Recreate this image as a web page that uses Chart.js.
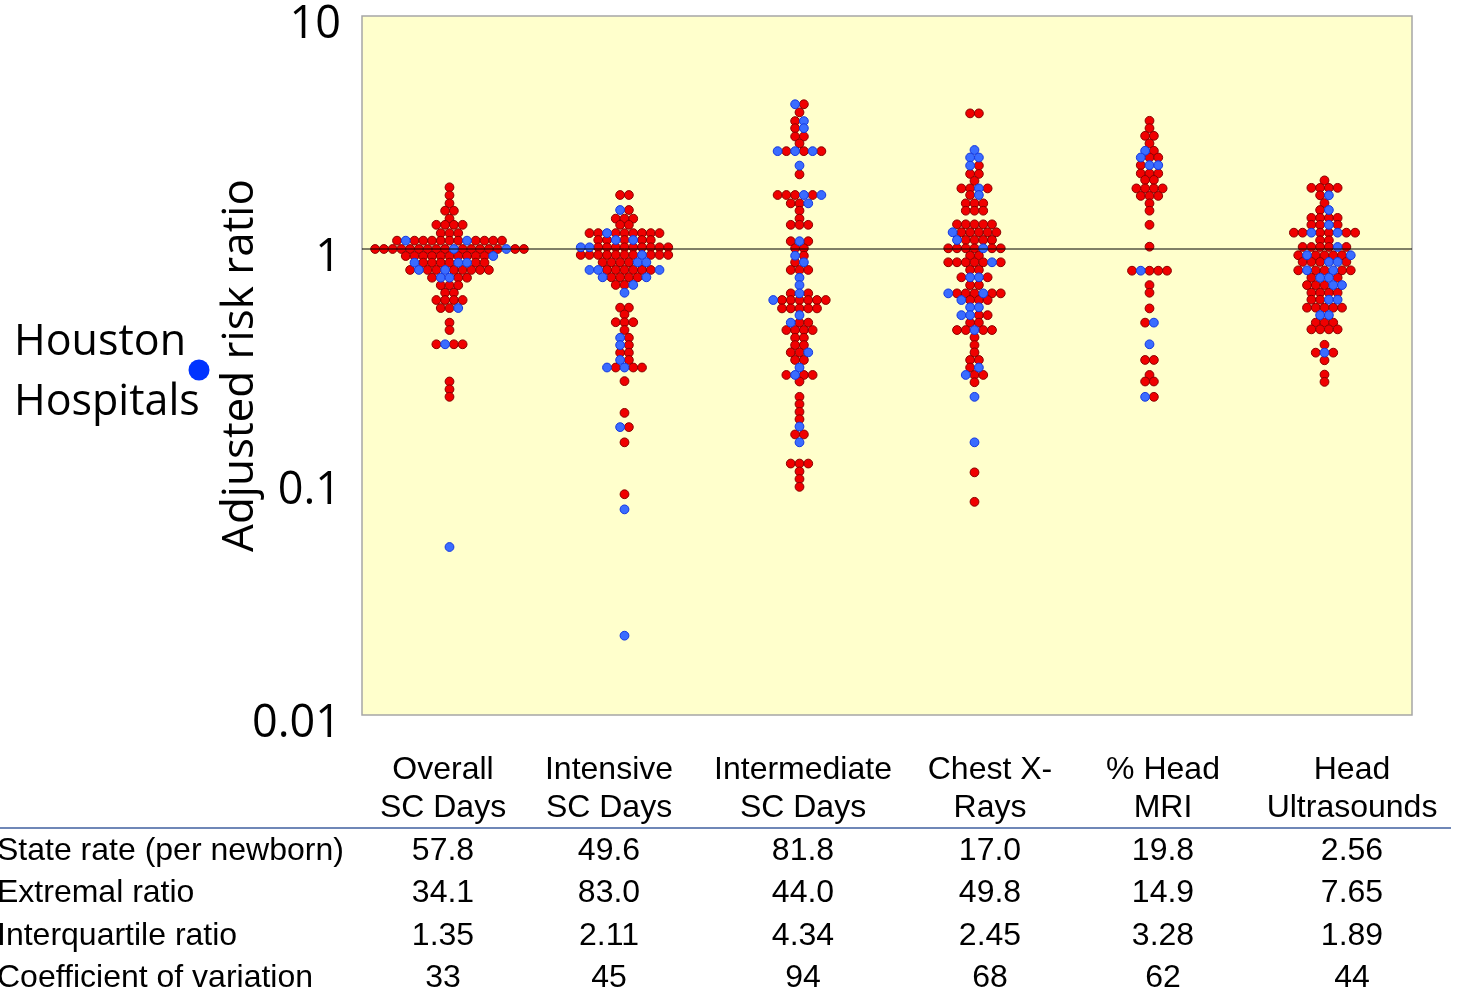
<!DOCTYPE html>
<html>
<head>
<meta charset="utf-8">
<title>Adjusted risk ratio</title>
<script src="https://cdn.jsdelivr.net/npm/chart.js@4.4.0/dist/chart.umd.min.js"></script>
<style>
  body { margin: 0; background: #fff; }
  #wrap { width: 1459px; height: 995px; position: relative; }
</style>
</head>
<body>
<div id="wrap"><canvas id="myChart"></canvas></div>
<script>
// categories (two text lines each)
const categories = [
    ['Overall', 'SC Days'],
    ['Intensive', 'SC Days'],
    ['Intermediate', 'SC Days'],
    ['Chest X-', 'Rays'],
    ['% Head', 'MRI'],
    ['Head', 'Ultrasounds']
];

// rows of hospitals per measure: [risk ratio, colour of each dot left->right] r = other, b = Houston
const overallRows = [
    [1.84, 'r'], [1.70, 'r'], [1.57, 'r'], [1.46, 'rr'], [1.35, 'r'], [1.27, 'rrrr'], [1.17, 'rrr'],
    [1.086, 'rbrrrrrrbrrrr'], [1.0, 'rrrrrrrrrbrrrrrbrr'], [0.933, 'rrrrrrrrrrb'], [0.874, 'brrrrbbrr'],
    [0.813, 'rbrrbrrrrr'], [0.753, 'rbbrr'], [0.699, 'rrr'], [0.649, 'rr'], [0.604, 'rrrr'], [0.558, 'rrb'],
    [0.483, 'r'], [0.449, 'r'], [0.39, 'rbrr'], [0.27, 'r'], [0.25, 'r'], [0.232, 'r'], [0.0526, 'b']
];
const intensiveRows = [
    [1.705, 'rr'], [1.47, 'br'], [1.35, 'rrr'], [1.27, 'rr'], [1.17, 'rrbrrrrrr'], [1.093, 'rrbrbrr'],
    [1.017, 'bbrrrrrrrrr'], [0.943, 'rrrrrrrbrrr'], [0.877, 'rrrrbb'], [0.813, 'bbrrrrrrb'], [0.756, 'brrrrb'],
    [0.701, 'rrb'], [0.649, 'b'], [0.56, 'rr'], [0.524, 'r'], [0.485, 'rrr'], [0.449, 'r'], [0.416, 'br'],
    [0.387, 'br'], [0.359, 'rr'], [0.334, 'br'], [0.31, 'brbrr'], [0.271, 'r'], [0.198, 'r'], [0.172, 'br'],
    [0.148, 'r'], [0.0886, 'r'], [0.0763, 'b'], [0.0219, 'b']
];
const intermediateRows = [
    [4.18, 'br'], [3.86, 'r'], [3.54, 'rb'], [3.30, 'rb'], [3.04, 'rr'], [2.84, 'r'], [2.63, 'brbrbr'],
    [2.28, 'b'], [2.09, 'r'], [1.705, 'rrrbrb'], [1.57, 'rrb'], [1.46, 'r'], [1.35, 'r'], [1.27, 'rrr'],
    [1.08, 'rbr'], [1.007, 'rr'], [0.936, 'br'], [0.877, 'rb'], [0.813, 'rrr'], [0.753, 'b'], [0.70, 'b'],
    [0.645, 'rbr'], [0.604, 'brrrrrr'], [0.556, 'rrrrr'], [0.52, 'b'], [0.483, 'brr'], [0.449, 'rrrr'],
    [0.416, 'rr'], [0.387, 'rr'], [0.36, 'rrb'], [0.334, 'rr'], [0.31, 'b'], [0.288, 'rbrr'], [0.27, 'r'],
    [0.232, 'r'], [0.216, 'r'], [0.20, 'r'], [0.186, 'r'], [0.173, 'b'], [0.16, 'rr'], [0.148, 'b'],
    [0.12, 'rrr'], [0.111, 'r'], [0.103, 'r'], [0.0953, 'r']
];
const chestRows = [
    [3.82, 'rr'], [2.66, 'b'], [2.47, 'bb'], [2.28, 'br'], [2.10, 'rr'], [1.96, 'r'], [1.82, 'rrbr'],
    [1.705, 'rb'], [1.57, 'rrr'], [1.46, 'rrr'], [1.276, 'rrrrr'], [1.18, 'brrrrr'], [1.093, 'brrrr'],
    [1.007, 'rrrrbrr'], [0.936, 'rr'], [0.877, 'rrrrrbr'], [0.813, 'rr'], [0.756, 'rbbr'], [0.70, 'rr'],
    [0.645, 'brrrbrr'], [0.604, 'brrr'], [0.562, 'bb'], [0.52, 'bbrr'], [0.483, 'rr'], [0.449, 'rrbrr'],
    [0.418, 'r'], [0.387, 'r'], [0.36, 'r'], [0.334, 'rr'], [0.31, 'rb'], [0.288, 'brr'], [0.268, 'r'],
    [0.232, 'b'], [0.148, 'b'], [0.11, 'r'], [0.0822, 'r']
];
const mriRows = [
    [3.55, 'r'], [3.30, 'r'], [3.06, 'rr'], [2.84, 'r'], [2.64, 'br'], [2.47, 'brr'], [2.29, 'rbb'],
    [2.11, 'rrr'], [1.98, 'rr'], [1.82, 'rrrr'], [1.69, 'rrr'], [1.57, 'r'], [1.46, 'r'], [1.27, 'r'],
    [1.023, 'r'], [0.807, 'rbrrr'], [0.70, 'r'], [0.649, 'r'], [0.556, 'r'], [0.483, 'rb'], [0.39, 'b'],
    [0.334, 'rr'], [0.288, 'r'], [0.27, 'rr'], [0.232, 'br']
];
const ultrasoundRows = [
    [1.97, 'r'], [1.83, 'rrrr'], [1.70, 'rb'], [1.575, 'r'], [1.47, 'rb'], [1.36, 'rrrr'], [1.27, 'rrbr'],
    [1.175, 'rrbrrbrr'], [1.09, 'rr'], [1.02, 'rrrrbr'], [0.94, 'rbrrrrb'], [0.88, 'rrrbbr'],
    [0.81, 'rbrrbrr'], [0.753, 'rbbr'], [0.70, 'rrrbb'], [0.649, 'rrrr'], [0.606, 'rrbb'], [0.56, 'rrrrr'],
    [0.52, 'bb'], [0.483, 'rrr'], [0.452, 'rrrr'], [0.388, 'r'], [0.359, 'rbr'], [0.333, 'r'],
    [0.289, 'r'], [0.269, 'r']
];
const measureRows = [overallRows, intensiveRows, intermediateRows, chestRows, mriRows, ultrasoundRows];

// y axis ticks
const yTickValues = [0.01, 0.1, 1, 10];
const yTickLabels = ['0.01', '0.1', '1', '10'];

// table under the chart
const rowLabels = ['State rate (per newborn)', 'Extremal ratio', 'Interquartile ratio', 'Coefficient of variation'];
const stateRate = ['57.8', '49.6', '81.8', '17.0', '19.8', '2.56'];
const extremalRatio = ['34.1', '83.0', '44.0', '49.8', '14.9', '7.65'];
const interquartileRatio = ['1.35', '2.11', '4.34', '2.45', '3.28', '1.89'];
const coefVariation = ['33', '45', '94', '68', '62', '44'];
const tableRows = [stateRate, extremalRatio, interquartileRatio, coefVariation];

const ctx = document.getElementById('myChart');
const dotStep = 0.05;          // horizontal spacing of dots inside a row (x units)
const tableCols = [443, 609, 803, 990, 1163, 1352];
const calibri = '"Open Sans", "DejaVu Sans", sans-serif';
const arial = '"Liberation Sans", Arial, sans-serif';

function buildPoints(colour) {
    const pts = [];
    measureRows.forEach((rows, k) => {
        rows.forEach(([valor, dots]) => {
            const n = dots.length;
            for (let i = 0; i < n; i++) {
                if (dots[i] === colour) {
                    pts.push({ x: k + 0.5 + (i - (n - 1) / 2) * dotStep, y: valor });
                }
            }
        });
    });
    return pts;
}

const paperPlugin = {
    id: 'paper',
    beforeDatasetsDraw(chart) {
        const { ctx, chartArea: a } = chart;
        ctx.save();
        ctx.fillStyle = '#ffffcc';
        ctx.fillRect(a.left, a.top, a.right - a.left, a.bottom - a.top);
        ctx.strokeStyle = '#a6a6a6';
        ctx.lineWidth = 1.5;
        ctx.strokeRect(a.left, a.top, a.right - a.left, a.bottom - a.top);
        ctx.restore();
    },
    afterDraw(chart) {
        const { ctx } = chart;
        ctx.save();
        ctx.fillStyle = '#000';
        ctx.textBaseline = 'middle';

        // Houston legend
        ctx.font = '43px ' + calibri;
        ctx.textAlign = 'left';
        ctx.fillText('Houston', 14, 343);
        ctx.fillText('Hospitals', 14, 403);
        ctx.beginPath();
        ctx.arc(199, 370, 10.5, 0, Math.PI * 2);
        ctx.fillStyle = '#0033ff';
        ctx.fill();

        // category labels
        ctx.fillStyle = '#000';
        ctx.font = '32px ' + arial;
        ctx.textAlign = 'center';
        categories.forEach((lines, k) => {
            lines.forEach((t, j) => ctx.fillText(t, tableCols[k], 770 + j * 38));
        });

        // rule
        ctx.strokeStyle = '#6f87b7';
        ctx.lineWidth = 2;
        ctx.beginPath();
        ctx.moveTo(0, 828);
        ctx.lineTo(1451, 828);
        ctx.stroke();

        // table
        tableRows.forEach((vals, r) => {
            const y = 851 + r * 42.5;
            ctx.textAlign = 'left';
            ctx.fillText(rowLabels[r], -3, y);
            ctx.textAlign = 'center';
            vals.forEach((v, k) => ctx.fillText(v, tableCols[k], y));
        });
        ctx.restore();
    }
};

const myChart = new Chart(ctx, {
    type: 'scatter',
    data: {
        datasets: [
            {
                label: 'Reference',
                type: 'line',
                data: [{ x: 0, y: 1 }, { x: 6, y: 1 }],
                borderColor: '#000',
                borderWidth: 1,
                pointRadius: 0,
                order: 0
            },
            {
                label: 'Houston',
                data: buildPoints('b'),
                backgroundColor: '#3a6cff',
                borderColor: '#1437e0',
                borderWidth: 1,
                pointRadius: 4.4,
                order: 1
            },
            {
                label: 'Other hospitals',
                data: buildPoints('r'),
                backgroundColor: '#f00000',
                borderColor: '#8a0000',
                borderWidth: 1,
                pointRadius: 4.4,
                order: 2
            }
        ]
    },
    options: {
        responsive: true,
        maintainAspectRatio: false,
        animation: false,
        layout: { padding: { left: 214, top: 16, right: 47, bottom: 280 } },
        plugins: { legend: { display: false }, tooltip: { enabled: false } },
        scales: {
            x: { type: 'linear', min: 0, max: 6, display: false },
            y: {
                type: 'logarithmic',
                min: 0.01,
                max: 10,
                grid: { display: false },
                border: { display: false },
                afterBuildTicks: (scale) => {
                    scale.ticks = yTickValues.map(v => ({ value: v }));
                },
                afterFit: (scale) => {
                    scale.width = 148;
                    scale.paddingTop = 0;
                    scale.paddingBottom = 0;
                },
                ticks: {
                    color: '#000',
                    font: { family: calibri, size: 45 },
                    padding: 13,
                    labelOffset: 9,
                    callback: (v) => yTickLabels[yTickValues.indexOf(v)]
                },
                title: {
                    display: true,
                    text: 'Adjusted risk ratio',
                    color: '#000',
                    font: { family: calibri, size: 44 },
                    padding: 0
                }
            }
        }
    },
    plugins: [paperPlugin]
});
</script>
</body>
</html>
